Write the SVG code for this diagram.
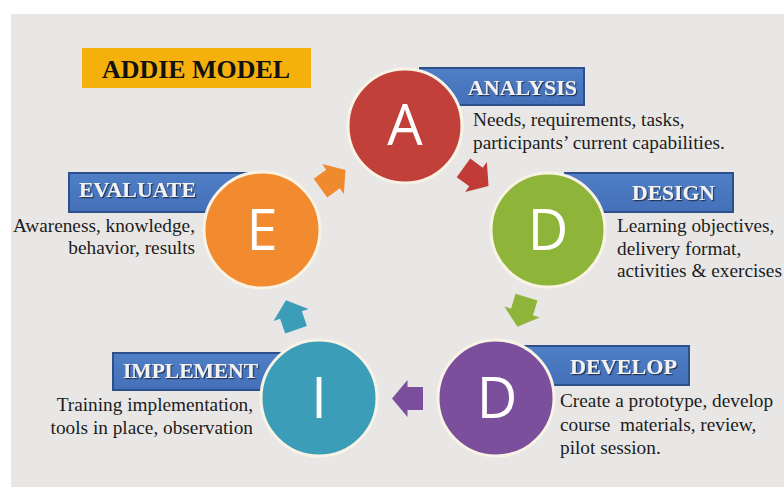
<svg xmlns="http://www.w3.org/2000/svg" width="784" height="488" viewBox="0 0 784 488">
<defs>
<filter id="ts" x="-10%" y="-30%" width="120%" height="160%">
<feDropShadow dx="1.2" dy="1.2" stdDeviation="0.6" flood-color="#1a2844" flood-opacity="0.9"/>
</filter>
<linearGradient id="bl" x1="0" y1="0" x2="0" y2="1">
<stop offset="0" stop-color="#4f7fc6"/>
<stop offset="1" stop-color="#4470b8"/>
</linearGradient>
<path id="arr" d="M-15.5,-11.5 L0,-11.5 L0,-18.5 L15.5,0 L0,18.5 L0,11.5 L-15.5,11.5 Z"/>
</defs>
<style>
.lbox{fill:url(#bl);stroke:#2d4f8c;stroke-width:2}
.ltxt{font-family:"Liberation Serif","Times New Roman",serif;font-weight:bold;font-size:21px;fill:#f2f2f2;filter:url(#ts)}
.body{font-family:"Liberation Serif","Times New Roman",serif;font-size:19.3px;fill:#1c1c1c}
.circ{stroke:#f8f3e5;stroke-width:3}
.let{font-family:"Open Sans","Liberation Sans",sans-serif;font-size:56px;fill:#ffffff;text-anchor:middle}
</style>
<rect x="0" y="0" width="784" height="488" fill="#ffffff"/>
<rect x="11" y="14" width="773" height="473" fill="#e9e7e6"/>

<g id="title">
<rect x="82" y="48" width="229" height="40" fill="#f5b00c"/>
<text x="102" y="78" font-family="Liberation Serif, Times New Roman, serif" font-weight="bold" font-size="26" fill="#111" textLength="188" lengthAdjust="spacingAndGlyphs">ADDIE MODEL</text>
</g>

<g id="connectors">
<use href="#arr" fill="#f08a2e" transform="translate(333,179) rotate(-36)"/>
<use href="#arr" fill="#c13c36" transform="translate(476,177) rotate(36)"/>
<use href="#arr" fill="#8fb43a" transform="translate(522,312) rotate(107)"/>
<use href="#arr" fill="#7b4f9b" transform="translate(407.5,398.5) rotate(180)"/>
<use href="#arr" fill="#3c9db8" transform="translate(291,315) rotate(251)"/>
</g>

<g id="analysis">
<rect class="lbox" x="420" y="68" width="164" height="37"/>
<circle class="circ" cx="405" cy="126" r="57" fill="#c1403a"/>
<text class="let" x="405" y="145">A</text>
<text class="ltxt" x="468" y="95" textLength="109" lengthAdjust="spacingAndGlyphs">ANALYSIS</text>
<text class="body" x="473" y="126">Needs, requirements, tasks,</text>
<text class="body" x="473" y="149">participants’ current capabilities.</text>
</g>

<g id="design">
<rect class="lbox" x="565" y="173" width="168" height="39"/>
<circle class="circ" cx="548" cy="230" r="57" fill="#8fb43a"/>
<text class="let" x="548" y="250">D</text>
<text class="ltxt" x="632" y="200" textLength="83" lengthAdjust="spacingAndGlyphs">DESIGN</text>
<text class="body" x="617" y="232">Learning objectives,</text>
<text class="body" x="617" y="255">delivery format,</text>
<text class="body" x="617" y="277">activities &amp; exercises</text>
</g>

<g id="develop">
<rect class="lbox" x="520" y="346" width="169" height="39"/>
<circle class="circ" cx="496" cy="398" r="58" fill="#7b4f9b"/>
<text class="let" x="497" y="418">D</text>
<text class="ltxt" x="570" y="374" textLength="107" lengthAdjust="spacingAndGlyphs">DEVELOP</text>
<text class="body" x="560" y="407">Create a prototype, develop</text>
<text class="body" x="560" y="431" xml:space="preserve">course  materials, review,</text>
<text class="body" x="560" y="454">pilot session.</text>
</g>

<g id="implement">
<rect class="lbox" x="113" y="353" width="172" height="37"/>
<circle class="circ" cx="319" cy="398" r="58" fill="#3c9db8"/>
<text class="let" x="319" y="418">I</text>
<text class="ltxt" x="123" y="378" textLength="135" lengthAdjust="spacingAndGlyphs">IMPLEMENT</text>
<text class="body" x="253" y="411" text-anchor="end">Training implementation,</text>
<text class="body" x="253" y="434" text-anchor="end">tools in place, observation</text>
</g>

<g id="evaluate">
<rect class="lbox" x="69" y="173" width="182" height="39"/>
<circle class="circ" cx="262" cy="230" r="58" fill="#f28a2f"/>
<text class="let" x="262" y="250">E</text>
<text class="ltxt" x="79" y="197" textLength="117" lengthAdjust="spacingAndGlyphs">EVALUATE</text>
<text class="body" x="195" y="232" text-anchor="end">Awareness, knowledge,</text>
<text class="body" x="195" y="254" text-anchor="end">behavior, results</text>
</g>
</svg>
